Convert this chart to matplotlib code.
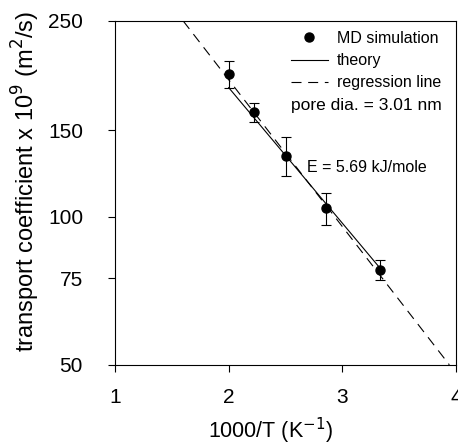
import matplotlib
matplotlib.use("Agg")
import matplotlib.pyplot as plt
from matplotlib.lines import Line2D

plt.rcParams['font.family'] = ['Liberation Sans', 'DejaVu Sans']

# MD simulation points (1000/T, transport coefficient x 1e9 m2/s)
inv_t = [2.0, 2.222, 2.5, 2.857, 3.333]
coef = [195, 163, 133, 104, 78]
coef_err = [12, 7, 12, 8, 3.5]

# theory line endpoints
theory_x = [2.0, 3.333]
theory_y = [183, 78.5]

# regression line endpoints
reg_x = [1.6, 3.94]
reg_y = [250, 50]

x_ticks = [1, 2, 3, 4]
y_ticks = [50, 75, 100, 150, 250]

fig = plt.figure(figsize=(4.58, 4.46), dpi=100)
ax = fig.add_axes([0.251, 0.182, 0.745, 0.771])

ax.plot(reg_x, reg_y, color='black', lw=0.8, dashes=(9, 6))
ax.plot(theory_x, theory_y, color='black', lw=0.8)
ax.errorbar(inv_t, coef, yerr=coef_err, fmt='none', ecolor='black',
            elinewidth=0.8, capsize=3.5, capthick=0.8)
ax.plot(inv_t, coef, 'o', color='black', markersize=6.5)

ax.set_yscale('log')
ax.set_xlim(1, 4)
ax.set_ylim(50, 250)
ax.set_xticks(x_ticks)
ax.set_xticklabels([str(v) for v in x_ticks])
ax.set_yticks(y_ticks)
ax.set_yticklabels([str(v) for v in y_ticks])
ax.yaxis.set_minor_locator(matplotlib.ticker.NullLocator())
ax.tick_params(direction='out', length=5, width=0.8, labelsize=15)
ax.tick_params(axis='x', pad=12)
ax.tick_params(axis='y', pad=18)
for s in ax.spines.values():
    s.set_linewidth(0.8)

ax.set_xlabel('1000/T (K$^{-1}$)', fontsize=15.5)
ax.xaxis.set_label_coords(0.457, -0.147)
ax.set_ylabel('transport coefficient x 10$^9$ (m$^2$/s)', fontsize=17)
ax.yaxis.set_label_coords(-0.214, 0.535)

handles = [
    Line2D([], [], marker='o', color='black', ls='none', markersize=6.5),
    Line2D([], [], color='black', lw=0.8),
    Line2D([], [], color='black', lw=0.8, dashes=(9, 6)),
]
ax.legend(handles, ['MD simulation', 'theory', 'regression line'],
          loc='upper left', bbox_to_anchor=(0.516, 0.971), frameon=False,
          borderpad=0, borderaxespad=0, handlelength=2.3, handletextpad=0.55,
          labelspacing=0.45, fontsize=11.5)
ax.text(0.516, 0.753, 'pore dia. = 3.01 nm', transform=ax.transAxes,
        fontsize=12.5, va='center', ha='left')
ax.text(2.69, 126, 'E = 5.69 kJ/mole', fontsize=11.5, va='center', ha='left')

fig.savefig('out.png', dpi=100)
